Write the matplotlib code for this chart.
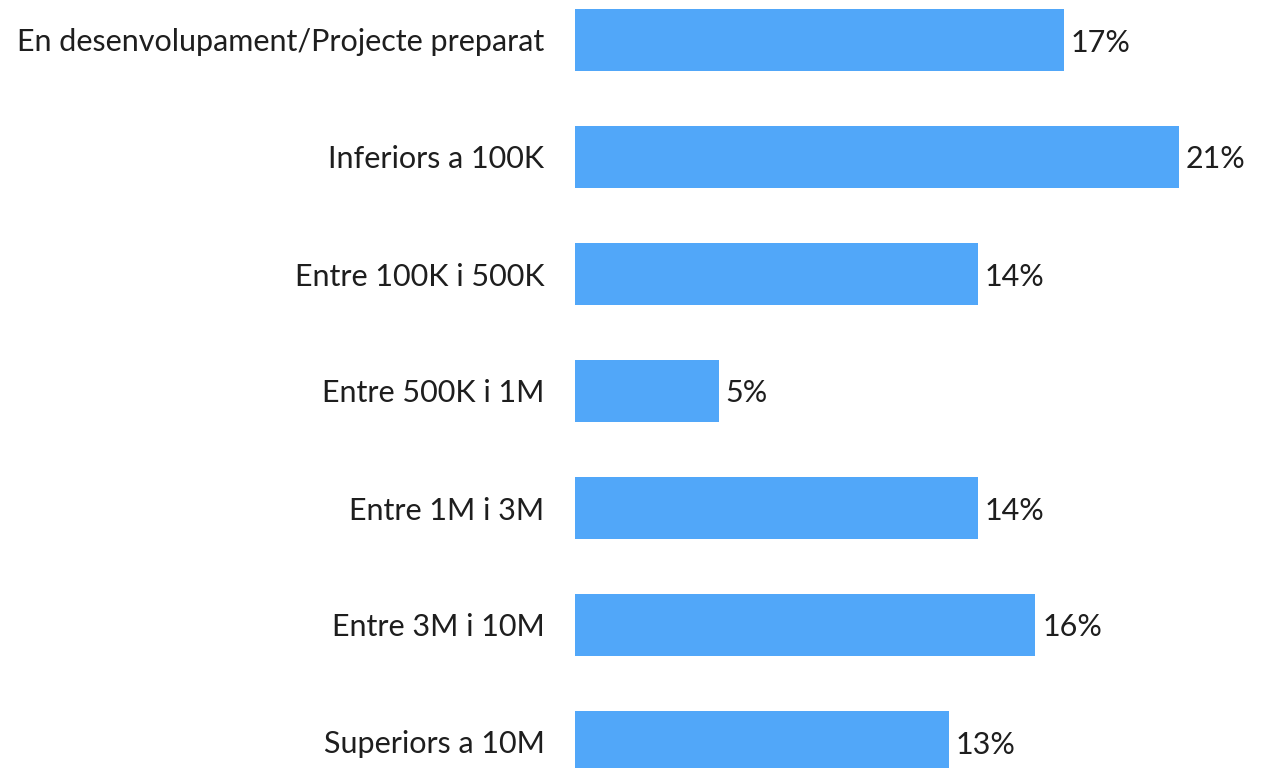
import matplotlib.pyplot as plt

# Categories and percentages
categories = [
    'En desenvolupament/Projecte preparat',
    'Inferiors a 100K',
    'Entre 100K i 500K',
    'Entre 500K i 1M',
    'Entre 1M i 3M',
    'Entre 3M i 10M',
    'Superiors a 10M',
]
values = [17, 21, 14, 5, 14, 16, 13]
value_labels = ['17%', '21%', '14%', '5%', '14%', '16%', '13%']

bar_color = '#51A7F9'
text_color = '#1e1e1e'
font = dict(family='Lato', weight='normal', size=22, color=text_color)

fig = plt.figure(figsize=(12.65, 7.68), dpi=100, facecolor='white')
# axes start where the bars start (x=575px) and span to the right edge
ax = fig.add_axes([575 / 1265, 0, 690 / 1265, 1])

ypos = list(range(len(categories)))
ax.barh(ypos, values, height=0.525, color=bar_color)

for y, v, lab in zip(ypos, values, value_labels):
    ax.annotate(lab, xy=(v, y), xytext=(5, 0), textcoords='offset points',
                ha='left', va='center_baseline', **font)

ax.set_xlim(0, 690 / 28.76)
ax.set_ylim(6 + (768 - 742) / 117, -40 / 117)

ax.set_yticks(ypos)
ax.set_yticklabels(categories, va='center_baseline', **font)
ax.tick_params(axis='y', length=0, pad=22)
ax.set_xticks([])
for s in ax.spines.values():
    s.set_visible(False)

fig.savefig('out.png', dpi=100, facecolor='white')
